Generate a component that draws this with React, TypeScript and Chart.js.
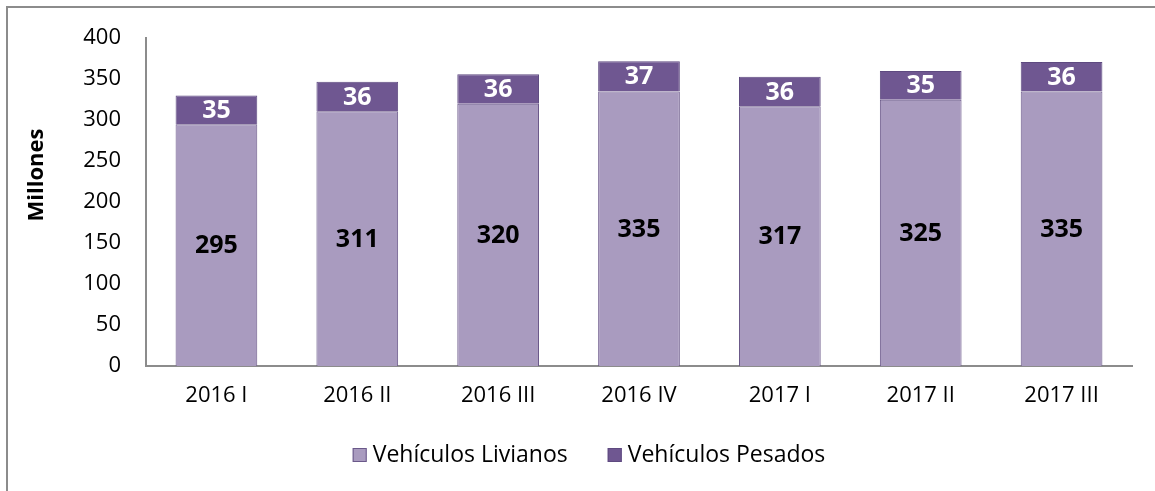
import React, { useEffect, useRef } from "react";
import { Chart, registerables } from "chart.js";

Chart.register(...registerables);

const categories = ["2016 I", "2016 II", "2016 III", "2016 IV", "2017 I", "2017 II", "2017 III"];
const livianos = [295, 311, 320, 335, 317, 325, 335];
const pesados = [35, 36, 36, 37, 36, 35, 36];
const seriesNames = ["Vehículos Livianos", "Vehículos Pesados"];
const yTitle = "Millones";
const yTicks = { min: 0, max: 400, step: 50 };

const FONT = "'Open Sans', 'Noto Sans', sans-serif";

const labelPlugin = {
  id: "barLabels",
  afterDatasetsDraw(chart: any) {
    const ctx = chart.ctx;
    ctx.save();
    ctx.font = `bold 25px ${FONT}`;
    ctx.textAlign = "center";
    ctx.textBaseline = "middle";
    chart.data.datasets.forEach((ds: any, di: number) => {
      const meta = chart.getDatasetMeta(di);
      meta.data.forEach((el: any, i: number) => {
        const y = (el.y + el.base) / 2;
        ctx.fillStyle = di === 0 ? "#000000" : "#ffffff";
        ctx.fillText(String(ds.data[i]), el.x, y + 1);
      });
    });
    ctx.restore();
  },
};

const titlePlugin = {
  id: "yTitle",
  afterDraw(chart: any) {
    const ctx = chart.ctx;
    ctx.save();
    ctx.font = `bold 22px ${FONT}`;
    ctx.fillStyle = "#000";
    ctx.textAlign = "center";
    ctx.textBaseline = "middle";
    ctx.translate(37, 175);
    ctx.rotate(-Math.PI / 2);
    ctx.fillText(yTitle, 0, 0);
    ctx.restore();
  },
};

const legendPlugin = {
  id: "customLegend",
  afterDraw(chart: any) {
    const ctx = chart.ctx;
    ctx.save();
    ctx.font = `23px ${FONT}`;
    ctx.textBaseline = "middle";
    const box = 14;
    const gapBoxText = 6;
    const gapItems = 40;
    const items = chart.data.datasets.map((ds: any) => ({
      text: ds.label,
      fill: ds.backgroundColor,
      stroke: ds.borderColor,
      w: box + gapBoxText + ctx.measureText(ds.label).width,
    }));
    const total = items.reduce((a: number, it: any) => a + it.w, 0) + gapItems * (items.length - 1);
    let x = 589 - total / 2;
    const cy = 455;
    items.forEach((it: any) => {
      ctx.fillStyle = it.fill;
      ctx.fillRect(x, cy - box / 2, box, box);
      ctx.strokeStyle = it.stroke;
      ctx.lineWidth = 1;
      ctx.strokeRect(x + 0.5, cy - box / 2 + 0.5, box - 1, box - 1);
      ctx.fillStyle = "#000000";
      ctx.textAlign = "left";
      ctx.fillText(it.text, x + box + gapBoxText, cy);
      x += it.w + gapItems;
    });
    ctx.restore();
  },
};

export default function App() {
  const ref = useRef<HTMLCanvasElement>(null);
  useEffect(() => {
    if (!ref.current) return;
    const chart = new Chart(ref.current, {
      type: "bar",
      data: {
        labels: categories,
        datasets: [
          {
            label: seriesNames[0],
            data: livianos,
            backgroundColor: "#A99BBF",
            borderColor: "#6A5889",
            borderWidth: 1,
            categoryPercentage: 1,
            barPercentage: 0.58,
          },
          {
            label: seriesNames[1],
            data: pesados,
            backgroundColor: "#6F5791",
            borderColor: "#5E4A80",
            borderWidth: 1,
            categoryPercentage: 1,
            barPercentage: 0.58,
          },
        ],
      },
      options: {
        animation: false,
        responsive: false,
        devicePixelRatio: 1,
        layout: { padding: { left: 0, right: 23, top: 37, bottom: 65 } },
        plugins: {
          legend: { display: false },
          tooltip: { enabled: false },
        },
        scales: {
          x: {
            stacked: true,
            grid: { display: false, drawTicks: false },
            border: { display: true, color: "#8c8c8c", width: 2 },
            ticks: { color: "#000", font: { family: FONT, size: 22 }, padding: 17 },
            afterFit: (s: any) => {
              s.height = 60;
            },
          },
          y: {
            stacked: true,
            min: yTicks.min,
            max: yTicks.max,
            grid: { display: false, drawTicks: false },
            border: { display: true, color: "#8c8c8c", width: 2 },
            ticks: {
              stepSize: yTicks.step,
              color: "#000",
              font: { family: FONT, size: 22 },
              padding: 25,
            },
            afterFit: (s: any) => {
              s.width = 146;
            },
          },
        },
      },
      plugins: [labelPlugin, titlePlugin, legendPlugin],
    });
    return () => chart.destroy();
  }, []);

  return (
    <div style={{ position: "absolute", left: 0, top: 0, width: 1155, height: 491, overflow: "hidden", background: "#fff" }}>
      <div
        style={{
          position: "absolute",
          left: 6,
          top: 6,
          width: 1200,
          height: 600,
          borderLeft: "2px solid #8c8c8c",
          borderTop: "2px solid #8c8c8c",
        }}
      />
      <canvas ref={ref} width={1155} height={491} style={{ position: "absolute", left: 0, top: 0, width: 1155, height: 491 }} />
    </div>
  );
}
